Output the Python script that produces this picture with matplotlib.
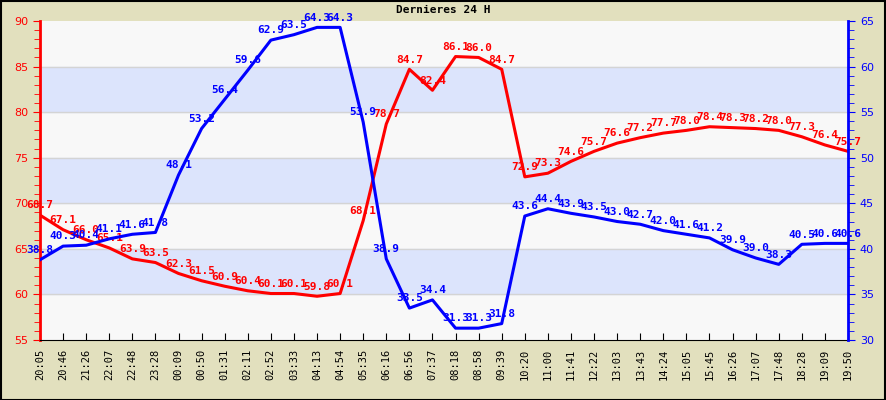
import matplotlib.pyplot as plt
from matplotlib.ticker import MultipleLocator

times = ["20:05", "20:46", "21:26", "22:07", "22:48", "23:28", "00:09", "00:50",
         "01:31", "02:11", "02:52", "03:33", "04:13", "04:54", "05:35", "06:16",
         "06:56", "07:37", "08:18", "08:58", "09:39", "10:20", "11:00", "11:41",
         "12:22", "13:03", "13:43", "14:24", "15:05", "15:45", "16:26", "17:07",
         "17:48", "18:28", "19:09", "19:50"]

red_vals = [68.7, 67.1, 66.0, 65.1, 63.9, 63.5, 62.3, 61.5, 60.9, 60.4, 60.1, 60.1,
            59.8, 60.1, 68.1, 78.7, 84.7, 82.4, 86.1, 86.0, 84.7, 72.9, 73.3, 74.6,
            75.7, 76.6, 77.2, 77.7, 78.0, 78.4, 78.3, 78.2, 78.0, 77.3, 76.4, 75.7]

blue_vals = [38.8, 40.3, 40.4, 41.1, 41.6, 41.8, 48.1, 53.2, 56.4, 59.6, 62.9, 63.5,
             64.3, 64.3, 53.9, 38.9, 33.5, 34.4, 31.3, 31.3, 31.8, 43.6, 44.4, 43.9,
             43.5, 43.0, 42.7, 42.0, 41.6, 41.2, 39.9, 39.0, 38.3, 40.5, 40.6, 40.6]

RED = "#ff0000"
BLUE = "#0000ff"
x = list(range(len(times)))

fig = plt.figure(figsize=(8.86, 4.0), dpi=100, facecolor="#e2e0be")
ax = fig.add_axes([40 / 886, 60 / 400, 808 / 886, 319 / 400])
ax.set_facecolor("#f8f8f8")

# bandes alternees
for lo in (60, 70, 80):
    ax.axhspan(lo, lo + 5, color="#dce4fc", zorder=0)
for y in range(60, 90, 5):
    ax.axhline(y, color="#d4d4d4", lw=1, zorder=0.5)

ax.set_xlim(0, len(times) - 1)
ax.set_ylim(55, 90)
ax.plot(x, red_vals, color=RED, lw=2.2, zorder=3)

ax.yaxis.set_major_locator(MultipleLocator(5))
ax.yaxis.set_minor_locator(MultipleLocator(1))
ax.tick_params(axis="y", which="both", colors=RED, labelsize=8, direction="out")
ax.tick_params(axis="y", which="major", length=5)
ax.tick_params(axis="y", which="minor", length=4)
ax.spines["left"].set_color(RED)
ax.spines["left"].set_linewidth(2)
ax.spines["top"].set_visible(False)
ax.spines["right"].set_visible(False)
ax.spines["bottom"].set_color("black")

ax.set_xticks(x)
ax.set_xticklabels(times, rotation=90, fontsize=7.5, family="DejaVu Sans Mono")
ax.tick_params(axis="x", direction="in", length=5, color="black", pad=6)

ax2 = ax.twinx()
ax2.set_ylim(30, 65)
ax2.plot(x, blue_vals, color=BLUE, lw=2.2, zorder=3)
ax2.yaxis.set_major_locator(MultipleLocator(5))
ax2.yaxis.set_minor_locator(MultipleLocator(1))
ax2.tick_params(axis="y", which="both", colors=BLUE, labelsize=8, direction="out")
ax2.tick_params(axis="y", which="major", length=5)
ax2.tick_params(axis="y", which="minor", length=4)
ax2.spines["right"].set_color(BLUE)
ax2.spines["right"].set_linewidth(2)
for s in ("left", "top", "bottom"):
    ax2.spines[s].set_visible(False)

for xi, v in zip(x, red_vals):
    ax.annotate(f"{v:.1f}", (xi, v), xytext=(0, 7), textcoords="offset points",
                ha="center", va="center", color=RED, fontsize=8,
                family="DejaVu Sans Mono", fontweight="bold", zorder=5,
                annotation_clip=False)
for xi, v in zip(x, blue_vals):
    ax2.annotate(f"{v:.1f}", (xi, v), xytext=(0, 7), textcoords="offset points",
                 ha="center", va="center", color=BLUE, fontsize=8,
                 family="DejaVu Sans Mono", fontweight="bold", zorder=5,
                 annotation_clip=False)

fig.text(0.5, 0.975, "Dernieres 24 H", ha="center", va="center", fontsize=8,
         family="DejaVu Sans Mono", fontweight="bold")

# cadre noir
fig.patches.append(plt.Rectangle((0.001, 0.001), 0.998, 0.997, transform=fig.transFigure,
                                 fill=False, edgecolor="black", lw=1.5))

fig.savefig("out.png", dpi=100, facecolor=fig.get_facecolor())
